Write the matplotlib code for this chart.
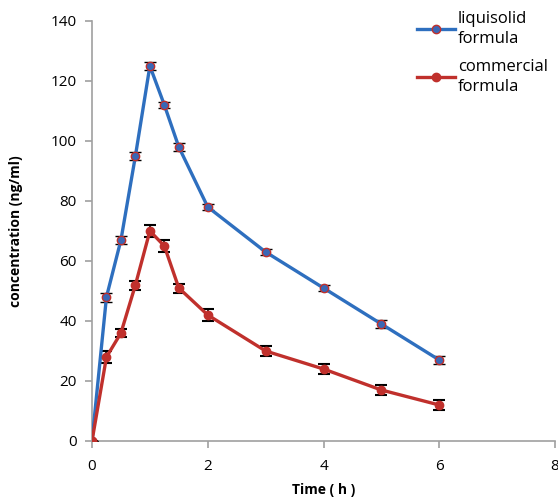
import numpy as np
import matplotlib.pyplot as plt

# sampling times (h)
tiempos = [0, 0.25, 0.5, 0.75, 1, 1.25, 1.5, 2, 3, 4, 5, 6]

# plasma concentrations (ng/ml)
liquisolid = [0, 48, 67, 95, 125, 112, 98, 78, 63, 51, 39, 27]
liquisolid_err = [0, 1.5, 1.2, 1.2, 1.3, 1.0, 1.2, 1.0, 1.0, 1.0, 1.2, 1.2]
comercial = [0, 28, 36, 52, 70, 65, 51, 42, 30, 24, 17, 12]
comercial_err = [0, 2.0, 1.3, 1.5, 2.0, 2.0, 1.5, 2.0, 1.8, 1.8, 1.8, 1.8]

plt.rcParams['font.family'] = ['Open Sans', 'DejaVu Sans']

fig = plt.figure(figsize=(5.58, 5.01), dpi=100)
ax = fig.add_axes([92 / 558, 1 - 441 / 501, 463 / 558, 420 / 501])

ax.errorbar(tiempos, liquisolid, yerr=liquisolid_err, color='#2e6fbf', lw=2.4,
            marker='o', ms=6, mfc='#3a67b5', mec='#c0302c', mew=1,
            ecolor='black', elinewidth=1.2, capsize=4, capthick=1.5,
            label='liquisolid\nformula', zorder=3)
ax.errorbar(tiempos, comercial, yerr=comercial_err, color='#c0302c', lw=2.4,
            marker='o', ms=6, mfc='#c0302c', mec='#c0302c',
            ecolor='black', elinewidth=1.2, capsize=4, capthick=1.5,
            label='commercial\nformula', zorder=3)

ax.set_xlim(0, 8)
ax.set_ylim(0, 140)
ax.set_xticks(np.arange(0, 9, 2))
ax.set_yticks(np.arange(0, 141, 20))
for s in ['top', 'right']:
    ax.spines[s].set_visible(False)
for s in ['left', 'bottom']:
    ax.spines[s].set_color('#a0a0a0')
    ax.spines[s].set_linewidth(1.2)
ax.tick_params(axis='both', colors='#a0a0a0', length=5, width=1.2,
               labelcolor='black', labelsize=11)
ax.tick_params(axis='x', pad=8)
ax.tick_params(axis='y', pad=6)

ax.set_xlabel('Time ( h )', fontsize=10, fontweight='bold')
ax.set_ylabel('concentration (ng/ml)', fontsize=10, fontweight='bold')
ax.xaxis.set_label_coords(0.5, -0.1)
ax.yaxis.set_label_coords(-0.15, 0.5)

handles, labels = ax.get_legend_handles_labels()
handles = [h[0] for h in handles]
leg = fig.legend(handles, labels, loc='upper left', bbox_to_anchor=(402 / 558, 1.008),
                 frameon=False, fontsize=12, handlelength=2.3, handletextpad=0.15,
                 labelspacing=0.7)
for t in leg.get_texts():
    t.set_linespacing(1.35)

fig.savefig('out.png', dpi=100)
